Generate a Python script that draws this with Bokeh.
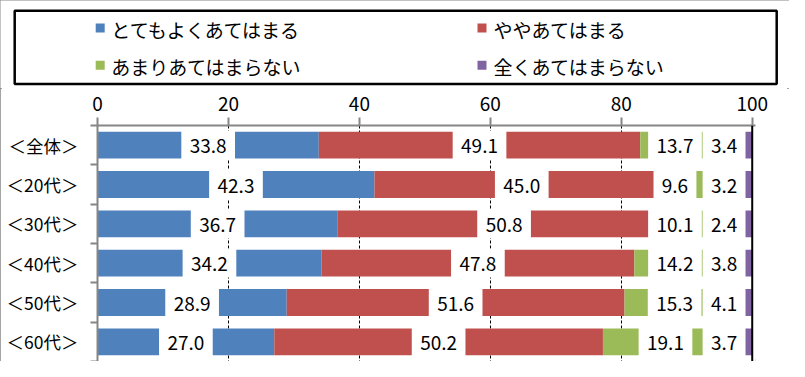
from bokeh.plotting import figure
from bokeh.models import Range1d, FixedTicker, Span, ColumnDataSource
from bokeh.layouts import column
from bokeh.embed import file_html
from bokeh.resources import INLINE
from bokeh.core.properties import value

# ---- data ----
categories = ["＜全体＞", "＜20代＞", "＜30代＞", "＜40代＞", "＜50代＞", "＜60代＞"]
series_names = ["とてもよくあてはまる", "ややあてはまる", "あまりあてはまらない", "全くあてはまらない"]
colors = ["#4F81BD", "#C0504D", "#9BBB59", "#8064A2"]
very_much = [33.8, 42.3, 36.7, 34.2, 28.9, 27.0]
somewhat = [49.1, 45.0, 50.8, 47.8, 51.6, 50.2]
not_much = [13.7, 9.6, 10.1, 14.2, 15.3, 19.1]
not_at_all = [3.4, 3.2, 2.4, 3.8, 4.1, 3.7]
x_ticks = [0, 20, 40, 60, 80, 100]
grid_ticks = [20, 40, 60, 80]

FONT = "Noto Sans CJK JP"
AXIS_GRAY = "#868686"

series = [very_much, somewhat, not_much, not_at_all]
n = len(categories)
rows = [i + 0.5 for i in range(n)]

W, H = 789, 361

# ---- legend figure ----
LH = 88
leg = figure(width=W, height=LH, x_range=Range1d(0, W), y_range=Range1d(LH, 0),
             output_backend="svg", toolbar_location=None, min_border=0,
             min_border_left=0, min_border_right=0, min_border_top=0, min_border_bottom=0,
             x_axis_location=None, y_axis_location=None, outline_line_color=None,
             frame_align=False)
leg.grid.visible = False
leg.quad(left=[14.2], right=[776.2], top=[10.2], bottom=[83.6], fill_color=None,
         line_color="black", line_width=2.5)
order = [0, 2, 1, 3]          # legend cell order: column-major (2 columns)
sq_x = [99.7, 99.7, 481.5, 481.5]
tx_x = [110.8, 110.8, 493, 493]
row_y = [27.6, 64.8, 27.6, 64.8]
leg.rect(x=sq_x, y=row_y, width=9, height=9,
         fill_color=[colors[k] for k in order], line_color=None)
leg.text(x=tx_x, y=[yy + 1.5 for yy in row_y], text=[series_names[k] for k in order],
         text_align="left", text_baseline="middle", text_font=value(FONT),
         text_font_size="19px", text_color="black")

# ---- main chart ----
CH = H - LH
top_border = 37
p = figure(width=W, height=CH, x_range=Range1d(0, 100.5), y_range=Range1d(n, 0),
           x_axis_location="above", output_backend="svg", toolbar_location=None,
           min_border_left=97, min_border_right=34, min_border_top=top_border,
           min_border_bottom=0, outline_line_color=None, frame_align=False)

# grid
p.ygrid.visible = False
p.xgrid.ticker = FixedTicker(ticks=grid_ticks)
p.xgrid.grid_line_color = "black"
p.xgrid.grid_line_dash = "3 2"
p.xgrid.grid_line_width = 1

# stacked bars
left = [0.0] * n
for vals, col in zip(series, colors):
    right = [l + v for l, v in zip(left, vals)]
    p.hbar(y=rows, left=left, right=right, height=28 / 41,
           fill_color=col, line_color=None)
    left = right

p.add_layout(Span(location=100, dimension="height", line_color="black", line_width=2))

# data labels on white boxes
lab_x, lab_y, lab_t = [], [], []
for i in range(n):
    b, r, g, pu = very_much[i], somewhat[i], not_much[i], not_at_all[i]
    xs = [b / 2, b + r / 2, min(b + r + g / 2, 88.2), 95.7]
    for x, v in zip(xs, [b, r, g, pu]):
        lab_x.append(x)
        lab_y.append(rows[i])
        lab_t.append(f"{v:.1f}")
src = ColumnDataSource(dict(x=lab_x, y=lab_y, t=lab_t,
                            w=[10.8 * len(t) + 10.5 for t in lab_t]))
p.rect(x="x", y="y", width="w", width_units="screen", height=30 / 41,
       fill_color="white", line_color=None, source=src)
p.text(x="x", y="y", text="t", text_align="center", text_baseline="middle",
       text_font=value(FONT), text_font_size="19px", text_color="black",
       y_offset=1, source=src)

# x axis (top)
xa = p.xaxis[0]
xa.ticker = FixedTicker(ticks=x_ticks)
xa.axis_line_color = AXIS_GRAY
xa.axis_line_width = 2
xa.major_tick_line_color = AXIS_GRAY
xa.major_tick_line_width = 2
xa.major_tick_out = 8
xa.major_tick_in = 0
xa.minor_tick_line_color = None
xa.major_label_text_font = FONT
xa.major_label_text_font_size = "19px"
xa.major_label_text_color = "black"
xa.major_label_standoff = 7

# y axis (left)
ya = p.yaxis[0]
ya.ticker = FixedTicker(ticks=rows, minor_ticks=list(range(n + 1)))
ya.major_label_overrides = {r: c for r, c in zip(rows, categories)}
ya.axis_line_color = AXIS_GRAY
ya.axis_line_width = 2
ya.major_tick_out = 0
ya.major_tick_in = 0
ya.major_tick_line_color = None
ya.minor_tick_out = 7
ya.minor_tick_in = 0
ya.minor_tick_line_color = AXIS_GRAY
ya.minor_tick_line_width = 2
ya.major_label_text_font = FONT
ya.major_label_text_font_size = "17.5px"
ya.major_label_text_color = "black"
ya.major_label_standoff = 12

layout = column(leg, p, styles={"outline": "2px solid #868686", "outline-offset": "-2px"})
open("out.html", "w").write(file_html(layout, INLINE))
